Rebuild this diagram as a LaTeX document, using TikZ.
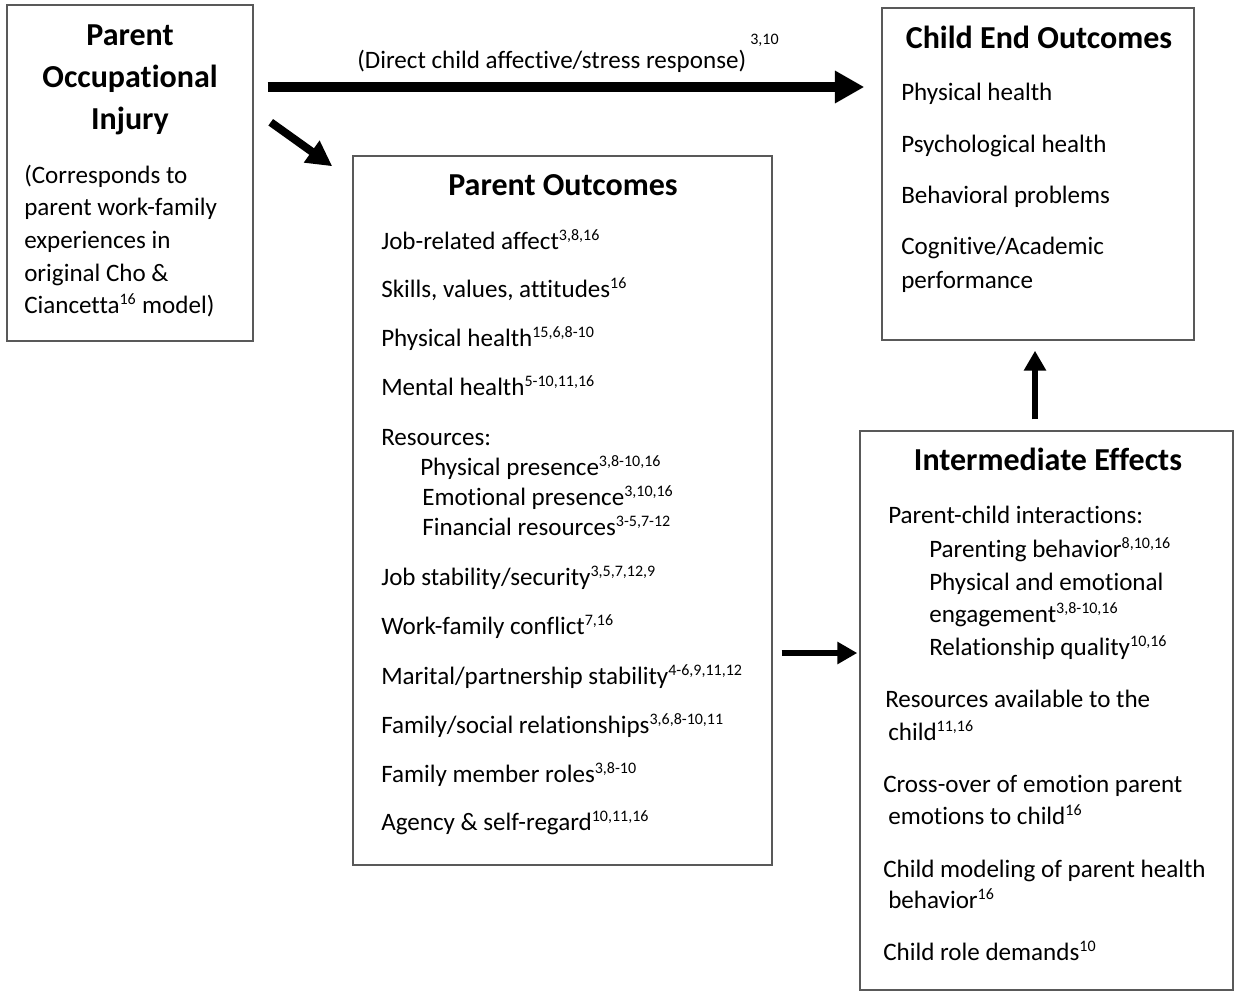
\documentclass[tikz,border=0pt]{standalone}
\usepackage{fontspec}
\setmainfont[Ligatures=NoCommon]{Carlito}
\usetikzlibrary{arrows.meta,fit}

\newcommand{\rf}[1]{\textsuperscript{\fontsize{12}{12}\selectfont #1}}

\begin{document}
\begin{tikzpicture}[x=0.75pt,y=-0.75pt,
  box/.style={draw=black!65,line width=1.1pt,inner sep=0pt},
  head/.style={font=\fontsize{24}{29}\selectfont\bfseries,anchor=base,inner sep=0pt},
  txt/.style={font=\fontsize{18.8}{22}\selectfont,anchor=base west,inner sep=0pt},
  fat/.style={line width=7.5pt,-{Triangle[length=22pt,width=23pt]}},
  slant/.style={line width=6pt,-{Triangle[length=19pt,width=19pt]}},
  thin/.style={line width=4.8pt,-{Triangle[length=15pt,width=16pt]}}]

  \useasboundingbox (0,0) rectangle (1235,992);

  % boxes
  \node[box,fit={(7,5)(253,341)}] (inj) {};
  \node[box,fit={(353,156)(772,865)}] (po) {};
  \node[box,fit={(882,8)(1194,340)}] (ceo) {};
  \node[box,fit={(860,431)(1233,990)}] (ie) {};

  % injury
  \node[head] (inj-1) at (130,45) {Parent};
  \node[head] (inj-2) at (130,87) {Occupational};
  \node[head] (inj-3) at (130,129) {Injury};
  \node[txt] (inj-4) at (24,183) {(Corresponds to};
  \node[txt] (inj-5) at (24,215) {parent work-family};
  \node[txt] (inj-6) at (24,248) {experiences in};
  \node[txt] (inj-7) at (24,281) {original Cho \&};
  \node[txt] (inj-8) at (24,313) {Ciancetta\rf{16} model)};

  % parent outcomes
  \node[head] (po-t) at (563,195) {Parent Outcomes};
  \node[txt] (po-1) at (381,249) {Job-related affect\rf{3,8,16}};
  \node[txt] (po-2) at (381,297) {Skills, values, attitudes\rf{16}};
  \node[txt] (po-3) at (381,346) {Physical health\rf{15,6,8-10}};
  \node[txt] (po-4) at (381,395) {Mental health\rf{5-10,11,16}};
  \node[txt] (po-5) at (381,445) {Resources:};
  \node[txt] (po-6) at (420,475) {Physical presence\rf{3,8-10,16}};
  \node[txt] (po-7) at (422,505) {Emotional presence\rf{3,10,16}};
  \node[txt] (po-8) at (422,535) {Financial resources\rf{3-5,7-12}};
  \node[txt] (po-9) at (381,585) {Job stability/security\rf{3,5,7,12,9}};
  \node[txt] (po-10) at (381,634) {Work-family conflict\rf{7,16}};
  \node[txt] (po-11) at (381,684) {Marital/partnership stability\rf{4-6,9,11,12}};
  \node[txt] (po-12) at (381,733) {Family/social relationships\rf{3,6,8-10,11}};
  \node[txt] (po-13) at (381,782) {Family member roles\rf{3,8-10}};
  \node[txt] (po-14) at (381,830) {Agency \& self-regard\rf{10,11,16}};

  % child end outcomes
  \node[head] (ceo-t) at (1039,48) {Child End Outcomes};
  \node[txt] (ceo-1) at (901,100) {Physical health};
  \node[txt] (ceo-2) at (901,152) {Psychological health};
  \node[txt] (ceo-3) at (901,203) {Behavioral problems};
  \node[txt] (ceo-4) at (901,254) {Cognitive/Academic};
  \node[txt] (ceo-5) at (901,288) {performance};

  % intermediate effects
  \node[head] (ie-t) at (1048,470) {Intermediate Effects};
  \node[txt] (ie-1) at (888,523) {Parent-child interactions:};
  \node[txt] (ie-2) at (929,557) {Parenting behavior\rf{8,10,16}};
  \node[txt] (ie-3) at (929,590) {Physical and emotional};
  \node[txt] (ie-4) at (929,622) {engagement\rf{3,8-10,16}};
  \node[txt] (ie-5) at (929,655) {Relationship quality\rf{10,16}};
  \node[txt] (ie-6) at (885,707) {Resources available to the};
  \node[txt] (ie-7) at (888,740) {child\rf{11,16}};
  \node[txt] (ie-8) at (883,792) {Cross-over of emotion parent};
  \node[txt] (ie-9) at (888,824) {emotions to child\rf{16}};
  \node[txt] (ie-10) at (883,877) {Child modeling of parent health};
  \node[txt] (ie-11) at (888,908) {behavior\rf{16}};
  \node[txt] (ie-12) at (883,960) {Child role demands\rf{10}};

  % arrows
  \draw[fat] ([xshift=10.5pt]inj.east |- 0,87) -- ([xshift=-12.75pt]ceo.west |- 0,87);
  \node[txt] (direct) at (357,68)
    {(Direct child affective/stress response)\,{\fontsize{12}{12}\selectfont\raisebox{18pt}{3,10}}};
  \draw[slant] ([shift={(17,118)}]inj.north east) -- ([shift={(-20,11)}]po.north west);
  \draw[thin] ([xshift=6.75pt]po.east |- 0,653) -- ([xshift=-1.5pt]ie.west |- 0,653);
  \draw[thin] ([yshift=8.25pt]ie.north -| 1035,0) -- ([yshift=-7.5pt]ceo.south -| 1035,0);
\end{tikzpicture}
\end{document}
